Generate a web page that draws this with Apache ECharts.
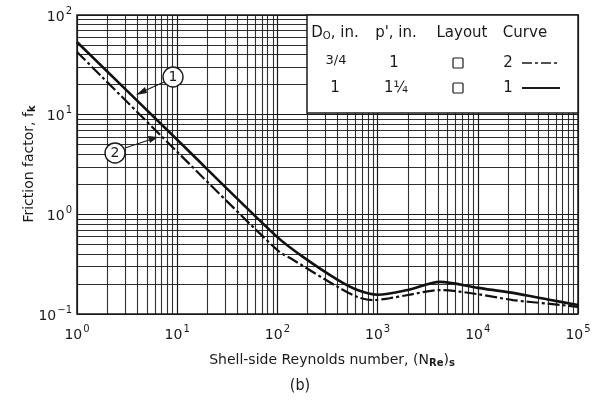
<!DOCTYPE html>
<html>
<head>
<meta charset="utf-8">
<script src="https://cdn.jsdelivr.net/npm/echarts@6/dist/echarts.min.js"></script>
<style>
  html, body { margin: 0; padding: 0; background: #fff; }
  #chart { width: 597px; height: 400px; }
</style>
</head>
<body>
<div id="chart"></div>
<script>
// Shell-side friction factor vs. Reynolds number (log-log)
const curve1Re = [1, 10, 100, 180, 400, 630, 1000, 2000, 4200, 10000, 22400, 50000, 100000];
const curve1F  = [53.6, 5.6, 0.59, 0.374, 0.22, 0.174, 0.156, 0.174, 0.21, 0.183, 0.163, 0.14, 0.123];

const curve2Re = [1, 10, 100, 143, 400, 630, 900, 1320, 2000, 4200, 10000, 22400, 50000, 100000];
const curve2F  = [42.6, 4.24, 0.437, 0.35, 0.187, 0.148, 0.138, 0.144, 0.155, 0.174, 0.158, 0.138, 0.127, 0.118];

const xDecades = [1, 10, 100, 1000, 10000];
const yDecades = [0.1, 1, 10];

const legendHeader = ['{t|D}{sub|O}{t|, in.}', "p', in.", 'Layout', 'Curve'];
const legendRows = [
  { d: '3/4', p: '1', curve: '2' },
  { d: '1', p: '1\u00BC', curve: '1' }
];

const FONT = 'DejaVu Sans';
const INK = '#1a1a1a';

function pairs(xs, ys) { return xs.map((x, i) => [x, ys[i]]); }

// intermediate log-grid lines at 2..9 within every decade
const gridLines = [];
xDecades.forEach(d => { for (let k = 2; k <= 9; k++) gridLines.push({ xAxis: d * k }); });
yDecades.forEach(d => { for (let k = 2; k <= 9; k++) gridLines.push({ yAxis: +(d * k).toPrecision(3) }); });

function powLabel(v) {
  const e = Math.round(Math.log10(v));
  return '{b|10}{s|' + (e < 0 ? '\u2212' + (-e) : e) + '}';
}
const tickRich = {
  b: { fontFamily: FONT, fontSize: 14, color: INK, lineHeight: 18, verticalAlign: 'bottom' },
  s: { fontFamily: FONT, fontSize: 10, color: INK, lineHeight: 18, verticalAlign: 'top', padding: [0, 0, 0, 1] }
};

const chart = echarts.init(document.getElementById('chart'), null, { renderer: 'canvas' });

const L = 77, T = 15, R = 578, B = 314;

chart.setOption({
  animation: false,
  backgroundColor: '#fff',
  grid: {
    left: L, top: T, right: 597 - R, bottom: 400 - B,
    show: true, borderColor: INK, borderWidth: 1.5, backgroundColor: 'transparent'
  },
  xAxis: {
    type: 'log', logBase: 10, min: 1, max: 100000,
    axisLine: { show: false },
    axisTick: { show: false },
    splitLine: { show: true, lineStyle: { color: INK, width: 1.2 } },
    axisLabel: { formatter: powLabel, rich: tickRich, margin: 10 }
  },
  yAxis: {
    type: 'log', logBase: 10, min: 0.1, max: 100,
    axisLine: { show: false },
    axisTick: { show: false },
    splitLine: { show: true, lineStyle: { color: INK, width: 1.2 } },
    axisLabel: { formatter: powLabel, rich: tickRich, margin: 5 }
  },
  series: [
    {
      type: 'line', data: [], silent: true, z: 1,
      markLine: {
        silent: true, symbol: ['none', 'none'], animation: false,
        label: { show: false },
        lineStyle: { color: INK, width: 1.1, type: 'solid', opacity: 0.9 },
        data: gridLines
      }
    },
    {
      name: 'Curve 1', type: 'line', z: 5,
      data: pairs(curve1Re, curve1F),
      showSymbol: false, smooth: 0.3,
      lineStyle: { color: '#111', width: 2.6 }
    },
    {
      name: 'Curve 2', type: 'line', z: 5,
      data: pairs(curve2Re, curve2F),
      showSymbol: false, smooth: 0.3,
      lineStyle: { color: '#111', width: 2.2, type: [12, 3, 3, 3] }
    }
  ],
  graphic: [
    // legend table box
    { type: 'rect', z: 50, shape: { x: 307, y: T, width: R - 307, height: 113 - T },
      style: { fill: '#fff', stroke: INK, lineWidth: 1.5 } },
    { type: 'text', z: 51, x: 335, y: 33, style: { text: legendHeader[0], align: 'center', verticalAlign: 'middle',
      rich: { t: { fontFamily: FONT, fontSize: 15, fill: INK }, sub: { fontFamily: FONT, fontSize: 10, fill: INK, verticalAlign: 'bottom', padding: [6, 0, 0, 0] } } } },
    { type: 'text', z: 51, x: 396, y: 33, style: { text: legendHeader[1], font: '15px ' + FONT, fill: INK, align: 'center', verticalAlign: 'middle' } },
    { type: 'text', z: 51, x: 462, y: 33, style: { text: legendHeader[2], font: '15px ' + FONT, fill: INK, align: 'center', verticalAlign: 'middle' } },
    { type: 'text', z: 51, x: 525, y: 33, style: { text: legendHeader[3], font: '15px ' + FONT, fill: INK, align: 'center', verticalAlign: 'middle' } },

    { type: 'text', z: 51, x: 336, y: 61, style: { text: legendRows[0].d, font: '13px ' + FONT, fill: INK, align: 'center', verticalAlign: 'middle' } },
    { type: 'text', z: 51, x: 394, y: 63, style: { text: legendRows[0].p, font: '15px ' + FONT, fill: INK, align: 'center', verticalAlign: 'middle' } },
    { type: 'rect', z: 51, shape: { x: 453, y: 58, width: 10, height: 10, r: 1 }, style: { fill: 'none', stroke: INK, lineWidth: 1.2 } },
    { type: 'text', z: 51, x: 508, y: 63, style: { text: legendRows[0].curve, font: '15px ' + FONT, fill: INK, align: 'center', verticalAlign: 'middle' } },
    { type: 'line', z: 51, shape: { x1: 522, y1: 63, x2: 560, y2: 63 }, style: { stroke: INK, lineWidth: 1.6, lineDash: [10, 3, 3, 3] } },

    { type: 'text', z: 51, x: 335, y: 88, style: { text: legendRows[1].d, font: '15px ' + FONT, fill: INK, align: 'center', verticalAlign: 'middle' } },
    { type: 'text', z: 51, x: 396, y: 88, style: { text: legendRows[1].p, font: '15px ' + FONT, fill: INK, align: 'center', verticalAlign: 'middle' } },
    { type: 'rect', z: 51, shape: { x: 453, y: 83, width: 10, height: 10, r: 1 }, style: { fill: 'none', stroke: INK, lineWidth: 1.2 } },
    { type: 'text', z: 51, x: 508, y: 88, style: { text: legendRows[1].curve, font: '15px ' + FONT, fill: INK, align: 'center', verticalAlign: 'middle' } },
    { type: 'line', z: 51, shape: { x1: 522, y1: 88, x2: 560, y2: 88 }, style: { stroke: INK, lineWidth: 1.8 } },

    // curve callouts
    { type: 'circle', z: 52, shape: { cx: 173, cy: 77, r: 10 }, style: { fill: '#fff', stroke: INK, lineWidth: 1.4 } },
    { type: 'text', z: 53, x: 173, y: 77, style: { text: '1', font: '14px ' + FONT, fill: INK, align: 'center', verticalAlign: 'middle' } },
    { type: 'line', z: 52, shape: { x1: 164, y1: 82, x2: 142, y2: 92 }, style: { stroke: INK, lineWidth: 1.2 } },
    { type: 'polygon', z: 52, shape: { points: [[136, 95], [145, 87], [147, 93]] }, style: { fill: INK } },

    { type: 'circle', z: 52, shape: { cx: 115, cy: 153, r: 10 }, style: { fill: '#fff', stroke: INK, lineWidth: 1.4 } },
    { type: 'text', z: 53, x: 115, y: 153, style: { text: '2', font: '14px ' + FONT, fill: INK, align: 'center', verticalAlign: 'middle' } },
    { type: 'line', z: 52, shape: { x1: 125, y1: 148, x2: 152, y2: 139 }, style: { stroke: INK, lineWidth: 1.2 } },
    { type: 'polygon', z: 52, shape: { points: [[158, 137], [148, 136], [150, 143]] }, style: { fill: INK } },

    // axis titles
    { type: 'text', z: 60, x: 29, y: 164, rotation: Math.PI / 2,
      style: { text: '{t|Friction factor, f}{sub|k}', align: 'center', verticalAlign: 'middle',
        rich: { t: { fontFamily: FONT, fontSize: 14, fill: INK }, sub: { fontFamily: FONT, fontSize: 10, fill: INK, fontWeight: 'bold', padding: [6, 0, 0, 0] } } } },
    { type: 'text', z: 60, x: 332, y: 360,
      style: { text: '{t|Shell-side Reynolds number, (N}{sub|Re}{t|)}{sub|s}', align: 'center', verticalAlign: 'middle',
        rich: { t: { fontFamily: FONT, fontSize: 14, fill: INK }, sub: { fontFamily: FONT, fontSize: 10, fill: INK, fontWeight: 'bold', padding: [6, 0, 0, 0] } } } },
    { type: 'text', z: 60, x: 300, y: 386,
      style: { text: '(b)', font: '16px "Liberation Sans Narrow", "DejaVu Sans Condensed", sans-serif', fill: INK, align: 'center', verticalAlign: 'middle' } }
  ]
});
</script>
</body>
</html>
